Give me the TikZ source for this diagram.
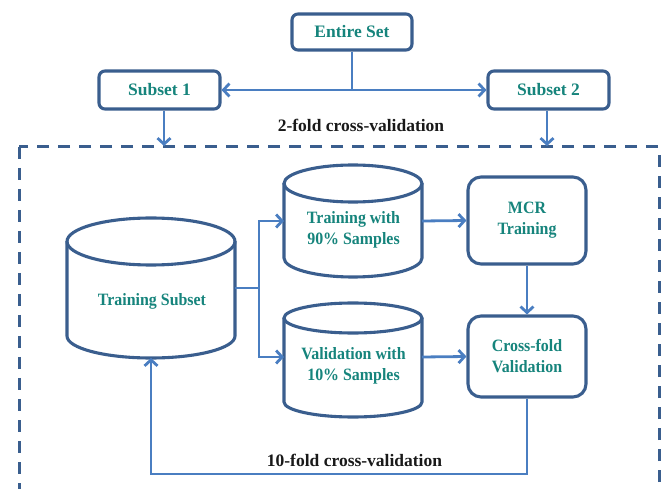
\documentclass[tikz,border=0pt]{standalone}
\usepackage{fontspec}
\setmainfont{Liberation Serif}
\newfontfamily\condf{Liberation Serif}[FakeStretch=0.92]
\usetikzlibrary{arrows.meta}
\definecolor{bordc}{RGB}{58,94,142}
\definecolor{arrc}{RGB}{74,126,193}
\definecolor{txtc}{RGB}{22,132,124}
\definecolor{labc}{RGB}{25,25,25}
\newcommand{\bigf}{\fontsize{17.5}{21}\selectfont\bfseries}
\newcommand{\smf}{\condf\fontsize{17.3}{21}\selectfont\bfseries}
\newcommand{\drawcyl}[6]{%
  \draw[cylst] ({#1-#2},#3) -- ({#1-#2},#5) arc[start angle=180,end angle=360,x radius=#2pt,y radius=#6pt] -- ({#1+#2},#3);
  \draw[cylst] (#1,#3) ellipse[x radius=#2pt,y radius=#4pt];}
\begin{document}
\begin{tikzpicture}[x=1pt,y=1pt,
  box/.style={draw=bordc,line width=3.1pt,rounded corners=6pt,fill=white,inner sep=0pt,text=txtc,font=\bigf,align=center},
  cylst/.style={draw=bordc,line width=3.1pt},
  anc/.style={inner sep=0pt,outer sep=0pt},
  ctext/.style={text=txtc,font=\smf,align=center,inner sep=0pt},
  lab/.style={text=labc,font=\bigf,inner sep=0pt},
  ln/.style={draw=arrc,line width=2.8pt},
  arr/.style={draw=arrc,line width=2.8pt,-{Straight Barb[length=6pt,width=13pt]}}]
\useasboundingbox (0,0) rectangle (662,-489);
\clip (0,0) rectangle (662,-489);

% dashed frame
\draw[draw=bordc,line width=3pt,dash pattern=on 12pt off 9pt] (19,-147) rectangle (659,-530);

% top boxes
\node[box,minimum width=120pt,minimum height=36pt] (es) at (352,-32) {Entire Set};
\node[box,minimum width=121pt,minimum height=38pt] (s1) at (159.5,-90) {Subset 1};
\node[box,minimum width=121pt,minimum height=38pt] (s2) at (548.5,-90) {Subset 2};

% right boxes
\node[box,rounded corners=13pt,minimum width=118pt,minimum height=87pt,font=\smf] (mcr) at (527,-220.5) {MCR\\Training};
\node[box,rounded corners=13pt,minimum width=118pt,minimum height=81pt,font=\smf] (cf) at (527,-356.5) {Cross-fold\\Validation};

% cylinders
\drawcyl{151}{84}{-241.5}{23.5}{-336}{22}
\drawcyl{353}{69}{-183.5}{18.5}{-258}{19}
\drawcyl{353}{69}{-318}{15}{-402}{15}
\node[anc,minimum width=168pt,minimum height=140pt] (ts) at (151,-288) {};
\node[anc,minimum width=138pt,minimum height=112pt] (c90) at (353,-221) {};
\node[anc,minimum width=138pt,minimum height=108pt] (val) at (353,-357) {};
\node[ctext] (tst) at (152,-301) {Training Subset};
\node[ctext] (c90t) at (353.5,-229.5) {Training with\\90\% Samples};
\node[ctext] (valt) at (353.5,-365.5) {Validation with\\10\% Samples};

% labels
\node[lab] (l2) at (361,-125) {2-fold cross-validation};
\node[lab] (l10) at (354.5,-460) {10-fold cross-validation};

% connectors
\draw[ln] (es.south) -- (es.south |- s1.east);
\draw[arr] (es.south |- s1.east) -- (s1.east);
\draw[arr] (es.south |- s2.west) -- (s2.west);
\coordinate (d1) at (164,-146);
\coordinate (d2) at (547,-146);
\draw[arr] (s1.south -| d1) -- (d1);
\draw[arr] (s2.south -| d2) -- (d2);
\coordinate (jn) at (259,-288);
\draw[ln] (ts.east) -- (jn);
\draw[arr] (jn) |- (c90.west);
\draw[arr] (jn) |- (val.west);
\draw[arr] (c90.east) -- (mcr.west);
\draw[arr] (val.east) -- (cf.west);
\draw[arr] (mcr.south) -- (cf.north);
\coordinate (fb) at (527,-474);
\draw[arr] (cf.south) -- (fb) -| (ts.south);
\end{tikzpicture}
\end{document}
